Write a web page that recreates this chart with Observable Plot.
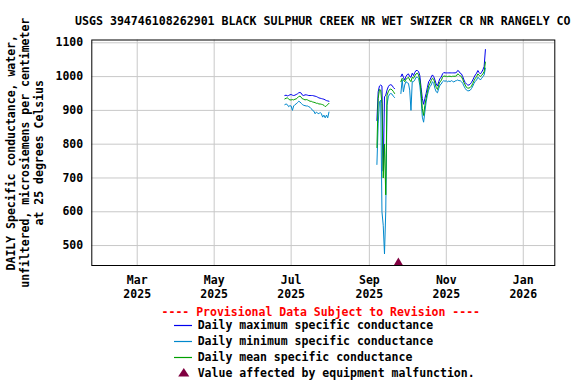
<!DOCTYPE html>
<html><head><meta charset="utf-8">
<script src="https://cdn.jsdelivr.net/npm/d3@7"></script>
<script src="https://cdn.jsdelivr.net/npm/@observablehq/plot@0.6"></script>
<style>
body{margin:0;background:#fff;}
#wrap{position:relative;width:576px;height:384px;overflow:hidden;background:#fff;font-family:"DejaVu Sans Mono",monospace;font-weight:bold;color:#000;}
#title{position:absolute;left:0;width:645.6px;text-align:center;top:12.5px;white-space:nowrap;font-size:11.6px;line-height:16px;}
#chart{position:absolute;left:0;top:35px;}
.lg{position:absolute;white-space:nowrap;font-size:11.5px;line-height:16px;}
#prov{left:0;width:641.6px;text-align:center;color:#ff0000;top:303.7px;}
#sym{position:absolute;left:0;top:0;}
</style></head><body>
<div id="wrap">
<div id="title"></div>
<div id="chart"></div>
<div id="legend"></div>
</div>
<script>
// ---- data ----
const seriesNames = ["Daily maximum specific conductance", "Daily minimum specific conductance", "Daily mean specific conductance"];
const seriesColors = ["#0000ee", "#0088cc", "#00a000"];
const malfunctionLabel = "Value affected by equipment malfunction.";
const provisionalText = "---- Provisional Data Subject to Revision ----";
const titleText = "USGS 394746108262901 BLACK SULPHUR CREEK NR WET SWIZER CR NR RANGELY CO";
const yLabelText = "DAILY Specific conductance, water,\nunfiltered, microsiemens per centimeter\nat 25 degrees Celsius";

// segment 1: Jun 26 - Jul 31, 2025
const seg1Start = "2025-06-26";
const seg1Max = [944,945,943,944,946, 947,945,944,945,947,949,952,953,951,945, 944,946,946,945,944,944,944,944,943,942, 941,939,937,936,935,934,933,931,929,928, 927];
const seg1Min = [917,919,917,911,914, 913,900,913,917,919,923,927,925,921,917, 915,914,913,913,911,909,905,900,898,890, 895,892,890,894,890,880,886,878,886,878, 895];
const seg1Mean = [934,936,937,934,931, 931,932,931,933,934,937,941,942,939,934, 933,931,932,931,929,927,927,925,924,923, 921,921,919,919,918,917,915,911,914,917, 921];

// segment 2: Sep 7 - Sep 21, 2025
const seg2Start = "2025-09-07";
const seg2Max = [870,955,972,975,972,720,940,945,960,970,975,976,974,968,964];
const seg2Min = [740,860,925,930,600,560,475,600,915,940,948,950,948,942,938];
const seg2Mean = [790,935,962,960,920,700,800,650,945,955,962,963,961,956,950];

// segment 3: Sep 26 - Dec 2, 2025
const seg3Start = "2025-09-26";
const seg3Max = [1000,1008,998,990,1000,
  1006,1008,1000,998,1010,1003,1012,1018,1018,1015,
  1003,968,935,918,935,950,968,985,990,998,
  1005,1000,990,978,972,985,995,998,1008,1012,1011,
  1011,1011,1011,1011,1011,1011,1011,1011,1012,1018,
  1016,1010,1008,1000,990,982,978,975,975,978,
  983,990,998,1005,1010,1018,1012,1008,1013,1020,
  1030,1080];
const seg3Min = [950,990,955,975,985,
  982,980,960,900,985,985,990,998,998,995,
  975,935,880,865,895,925,945,960,970,975,
  985,980,965,955,952,965,975,978,985,988,986,
  988,984,987,985,988,986,984,987,988,990,
  988,988,985,980,972,965,960,958,958,960,
  965,972,980,986,990,998,995,990,995,1000,
  1005,1025];
const seg3Mean = [985,995,990,985,992,
  995,998,990,985,998,995,1002,1008,1010,1005,
  990,955,905,885,915,935,955,972,980,988,
  995,992,980,968,962,975,985,988,998,1002,1001,
  1001,1000,1001,1001,1000,1001,1001,1001,1002,1008,
  1006,1002,1000,992,982,975,968,966,966,968,
  972,980,988,995,1000,1008,1004,1000,1004,1008,
  1015,1043];

// equipment malfunction marker
const malfunctionDates = ["2025-09-24"];
const malfunctionLevel = [442];

const xTickDates = ["2025-03-01","2025-05-01","2025-07-01","2025-09-01","2025-11-01","2026-01-01"];
const yTicks = [500,600,700,800,900,1000,1100];
const xDomain = ["2025-01-24","2026-01-26"];
const yDomain = [441, 1108.3];

// ---- build tables ----
function expand(start, values, seg) {
  const t0 = new Date(start + "T00:00:00Z");
  return values.map((v, i) => ({date: d3.utcDay.offset(t0, i), value: v, seg}));
}
const segs = [[seg1Start, seg1Max, seg1Min, seg1Mean], [seg2Start, seg2Max, seg2Min, seg2Mean], [seg3Start, seg3Max, seg3Min, seg3Mean]];
const rowsBySeries = [0,1,2].map(k => segs.flatMap((s, j) => expand(s[0], s[k+1], j)));
const malf = malfunctionDates.map((d, i) => ({date: new Date(d + "T00:00:00Z"), level: malfunctionLevel[i]}));
const xTicks = xTickDates.map(d => new Date(d + "T00:00:00Z"));

const font = {fontFamily: "DejaVu Sans Mono", fontWeight: "bold", fontSize: 11.5, fill: "black"};

const chart = Plot.plot({
  width: 576, height: 265,
  marginTop: 4.5, marginBottom: 35, marginLeft: 91.3, marginRight: 21.7,
  style: {fontFamily: "DejaVu Sans Mono", fontWeight: "bold", fontSize: "11.5px", color: "black", background: "white", overflow: "visible"},
  x: {type: "utc", domain: xDomain.map(d => new Date(d + "T00:00:00Z"))},
  y: {domain: yDomain},
  marks: [
    Plot.gridX(xTicks, {stroke: "#c8c8c8", strokeOpacity: 1, strokeWidth: 1}),
    Plot.gridY(yTicks, {stroke: "#c8c8c8", strokeOpacity: 1, strokeWidth: 1}),
    ...rowsBySeries.map((rows, k) => Plot.line(rows, {x: "date", y: "value", z: "seg", stroke: seriesColors[k], strokeWidth: 1, clip: true})),
    Plot.dot(malf, {x: "date", y: "level", symbol: "triangle", r: 5, fill: "#800040", stroke: null, clip: true}),
    Plot.frame({stroke: "black", strokeWidth: 1}),
    Plot.axisX(xTicks, {tickSize: 0, tickPadding: 9, tickFormat: d3.utcFormat("%b\n%Y"), label: null, lineHeight: 1.17, ...font}),
    Plot.axisY(yTicks, {tickSize: 0, tickPadding: 8.6, tickFormat: d3.format("d"), label: null, ...font}),
    Plot.text([yLabelText], {frameAnchor: "left", rotate: -90, dx: -67.5, lineHeight: 1.23, text: d => d, textAnchor: "middle", lineAnchor: "middle", ...font})
  ]
});
document.getElementById("chart").appendChild(chart);
document.getElementById("title").textContent = titleText;

// ---- legend (HTML + small svg for symbols) ----
const lg = document.getElementById("legend");
const prov = document.createElement("div");
prov.className = "lg"; prov.id = "prov"; prov.textContent = provisionalText;
lg.appendChild(prov);
const rowTops = [317, 333, 349];
const NS = "http://www.w3.org/2000/svg";
const sym = document.createElementNS(NS, "svg");
sym.setAttribute("id", "sym"); sym.setAttribute("width", "576"); sym.setAttribute("height", "384");
sym.style.position = "absolute"; sym.style.left = "0"; sym.style.top = "0"; sym.style.pointerEvents = "none";
seriesNames.forEach((name, i) => {
  const ln = document.createElementNS(NS, "line");
  const yy = rowTops[i] + 8.5;
  ln.setAttribute("x1", "174"); ln.setAttribute("x2", "192");
  ln.setAttribute("y1", yy); ln.setAttribute("y2", yy);
  ln.setAttribute("stroke", seriesColors[i]); ln.setAttribute("stroke-width", "1.2");
  sym.appendChild(ln);
  const t = document.createElement("div");
  t.className = "lg"; t.style.left = "197.7px"; t.style.top = rowTops[i] + "px"; t.textContent = name;
  lg.appendChild(t);
});
const poly = document.createElementNS(NS, "polygon");
poly.setAttribute("points", "183.8,368 178.2,376.5 189.3,376.5");
poly.setAttribute("fill", "#800040");
sym.appendChild(poly);
lg.appendChild(sym);
const mt = document.createElement("div");
mt.className = "lg"; mt.style.left = "197.7px"; mt.style.top = "365.3px"; mt.textContent = malfunctionLabel;
lg.appendChild(mt);
</script>
</body></html>
